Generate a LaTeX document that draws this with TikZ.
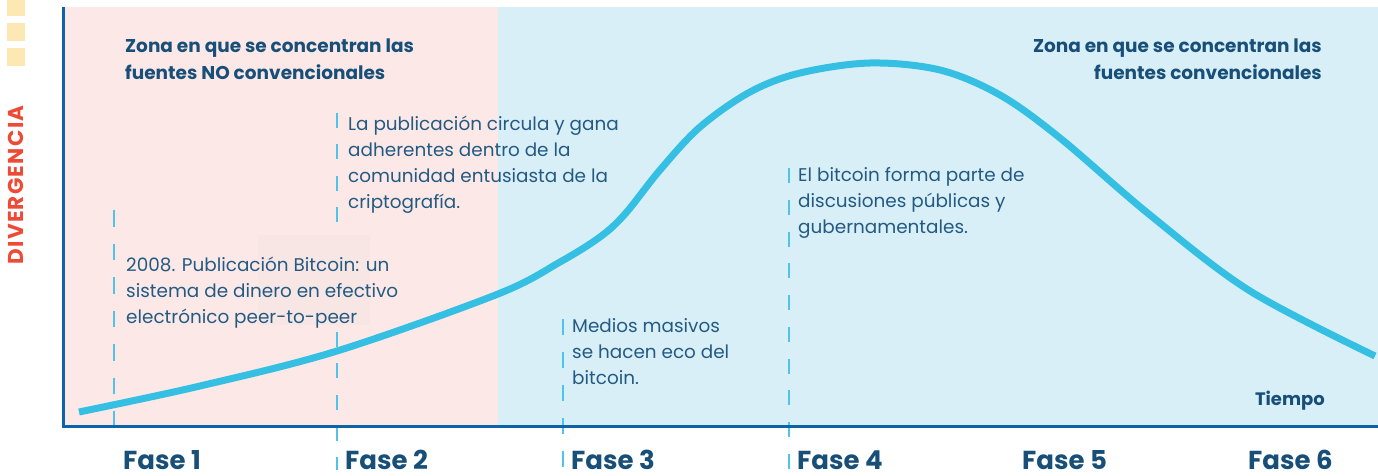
\documentclass[tikz,border=0pt]{standalone}
\usepackage{fontspec}
\setmainfont{Poppins}
\definecolor{pinkbg}{HTML}{FCE9E7}
\definecolor{bluebg}{HTML}{D9EFF8}
\definecolor{boxbg}{HTML}{F8E6E5}
\definecolor{axisblue}{HTML}{0E62A8}
\definecolor{curvecyan}{HTML}{35BFE3}
\definecolor{dashcyan}{HTML}{4FC3E8}
\definecolor{darktext}{HTML}{184F79}
\definecolor{bodytext}{HTML}{235A82}
\definecolor{redtext}{HTML}{EE4B37}
\definecolor{yellowsq}{HTML}{FDE8B3}
\begin{document}
\begin{tikzpicture}[x=1pt,y=-1pt,
  guide/.style={draw=dashcyan, line width=1.6pt},
  headtext/.style={inner sep=0pt, align=left, text=darktext, font=\fontsize{18.5}{27}\selectfont\bfseries},
  bodytxt/.style={inner sep=0pt, align=left, text=bodytext, font=\fontsize{18.4}{26}\selectfont},
  fase/.style={inner sep=0pt, anchor=base west, text depth=0pt, text=darktext, font=\fontsize{26}{28}\selectfont\bfseries},
  axisline/.style={draw=axisblue, line width=3pt},
  curveline/.style={draw=curvecyan, line width=7pt}]
\useasboundingbox (0,0) rectangle (1378,476);
% backgrounds
\fill[pinkbg] (63,7) rectangle (498,426);
\fill[bluebg] (498,7) rectangle (1378,426);
% yellow squares
\fill[yellowsq] (7,-2) rectangle (25,16);
\fill[yellowsq] (7,23) rectangle (25,41);
\fill[yellowsq] (7,48) rectangle (25,66);
% dashed phase guides
\draw[guide, dash pattern=on 16.5pt off 17pt] (114,210) -- (114,430);
\draw[guide, dash pattern=on 15pt off 16.3pt] (337,113) -- (337,470);
\draw[guide, dash pattern=on 16pt off 17pt] (563,319) -- (563,470);
\draw[guide, dash pattern=on 15pt off 16.75pt] (789,168) -- (789,470);
% faint box behind text
\fill[boxbg] (258,235) rectangle (370,325);
% curve
\draw[curveline] plot[smooth, tension=0.55] coordinates {(79,412) (200,386) (337,351) (498,294) (560,262) (600,237) (625,214) (660,170) (700,127) (750,92) (800,73) (870,63) (940,70) (1000,95) (1060,138) (1150,215) (1250,291) (1375,356)};
% axes
\coordinate (o) at (63,426);
\coordinate (ytop) at (63,7);
\coordinate (xend) at (1378,426);
\draw[axisline] (ytop) -- (o) -- (xend);
% vertical label
\node[rotate=90, inner sep=0pt, text=redtext, font=\fontsize{21.5}{23}\selectfont\bfseries\addfontfeatures{LetterSpace=6}] (div) at (16,185) {DIVERGENCIA};
% headers (anchor at baseline of last line)
\node[headtext, anchor=base west] (hl) at (125,80) {Zona en que se concentran las\\fuentes NO convencionales};
\node[headtext, anchor=base east, align=right] (hr) at (1322,80) {Zona en que se concentran las\\fuentes convencionales};
% body texts
\node[bodytxt, anchor=base west] (t2) at (348,208) {La publicación circula y gana\\adherentes dentro de la\\comunidad entusiasta de la\\criptografía.};
\node[bodytxt, anchor=base west] (t1) at (126,323) {2008. Publicación Bitcoin: un\\sistema de dinero en efectivo\\electrónico peer-to-peer};
\node[bodytxt, anchor=base west] (t3) at (572,384) {Medios masivos\\se hacen eco del\\bitcoin.};
\node[bodytxt, anchor=base west] (t4) at (798,233) {El bitcoin forma parte de\\discusiones públicas y\\gubernamentales.};
% Tiempo
\node[inner sep=0pt, anchor=base east, text=darktext, font=\fontsize{18}{20}\selectfont\bfseries] (tiempo) at (1325,405) {Tiempo};
% phase labels
\node[fase] (f1) at (123,469.5) {Fase 1};
\node[fase] (f2) at (345,469.5) {Fase 2};
\node[fase] (f3) at (571,469.5) {Fase 3};
\node[fase] (f4) at (797,469.5) {Fase 4};
\node[fase] (f5) at (1022,469.5) {Fase 5};
\node[fase] (f6) at (1248,469.5) {Fase 6};
\end{tikzpicture}
\end{document}
